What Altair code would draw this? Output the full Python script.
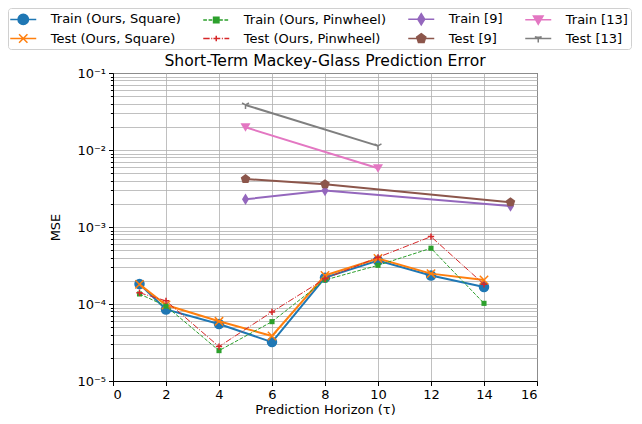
import altair as alt
import pandas as pd

FONT = "DejaVu Sans"

# ---------------- data ----------------
series_names = [
    "Train (Ours, Square)", "Test (Ours, Square)",
    "Train (Ours, Pinwheel)", "Test (Ours, Pinwheel)",
    "Train [9]", "Test [9]", "Train [13]", "Test [13]",
]
horizon_ours = [1, 2, 4, 6, 8, 10, 12, 14]
train_square = [1.82e-4, 8.5e-5, 5.5e-5, 3.2e-5, 2.2e-4, 3.66e-4, 2.34e-4, 1.66e-4]
test_square = [1.80e-4, 9.7e-5, 5.96e-5, 3.84e-5, 2.35e-4, 3.9e-4, 2.48e-4, 2.05e-4]
train_pinwheel = [1.35e-4, 9.4e-5, 2.48e-5, 5.9e-5, 2.05e-4, 3.18e-4, 5.3e-4, 1.02e-4]
test_pinwheel = [1.40e-4, 1.1e-4, 2.8e-5, 7.9e-5, 2.13e-4, 4.04e-4, 7.5e-4, 1.8e-4]
horizon_9 = [5, 8, 15]
train_9 = [2.29e-3, 2.97e-3, 1.87e-3]
test_9 = [4.2e-3, 3.6e-3, 2.1e-3]
horizon_13 = [5, 10]
train_13 = [1.97e-2, 5.8e-3]
test_13 = [3.84e-2, 1.13e-2]

x_ticks = [0, 2, 4, 6, 8, 10, 12, 14, 16]
y_ticks = [m * 10.0 ** e for e in range(-5, -1) for m in range(1, 10)] + [0.1]

series_data = [
    (series_names[0], horizon_ours, train_square),
    (series_names[1], horizon_ours, test_square),
    (series_names[2], horizon_ours, train_pinwheel),
    (series_names[3], horizon_ours, test_pinwheel),
    (series_names[4], horizon_9, train_9),
    (series_names[5], horizon_9, test_9),
    (series_names[6], horizon_13, train_13),
    (series_names[7], horizon_13, test_13),
]
rows = []
for name, xs, ys in series_data:
    for xv, yv in zip(xs, ys):
        rows.append({"series": name, "horizon": xv, "mse": yv})
df = pd.DataFrame(rows)

# ---------------- styles ----------------
colors = ["#1f77b4", "#ff7f0e", "#2ca02c", "#d62728",
          "#9467bd", "#8c564b", "#e377c2", "#7f7f7f"]
dash_px = [None, None, [3.7, 1.6], [6.4, 1.6, 1.0, 1.6], None, None, None, None]
line_w = [2.0, 2.0, 1.0, 1.0, 2.0, 2.0, 2.0, 2.0]


def marker(kind, r):
    f = lambda v: f"{v:.3f}"
    if kind == "circle":
        return (f"M{f(r)},0A{f(r)},{f(r)},0,1,1,{f(-r)},0"
                f"A{f(r)},{f(r)},0,1,1,{f(r)},0Z")
    if kind == "x":
        return f"M{f(-r)},{f(-r)}L{f(r)},{f(r)}M{f(-r)},{f(r)}L{f(r)},{f(-r)}"
    if kind == "square":
        return f"M{f(-r)},{f(-r)}H{f(r)}V{f(r)}H{f(-r)}Z"
    if kind == "plus":
        return f"M{f(-r)},0H{f(r)}M0,{f(-r)}V{f(r)}"
    if kind == "diamond":
        return f"M0,{f(-r)}L{f(0.62*r)},0L0,{f(r)}L{f(-0.62*r)},0Z"
    if kind == "pentagon":
        pts = [(0, -1), (0.951, -0.309), (0.588, 0.809), (-0.588, 0.809), (-0.951, -0.309)]
        return "M" + "L".join(f"{f(px*r)},{f(py*r)}" for px, py in pts) + "Z"
    if kind == "tridown":
        return (f"M{f(0.866*r)},{f(-0.5*r)}L0,0L{f(-0.866*r)},{f(-0.5*r)}"
                f"M0,0V{f(r)}")
    if kind == "tri":  # triangle down
        return f"M{f(-r)},{f(-0.8*r)}H{f(r)}L0,{f(0.9*r)}Z"
    return ""


kinds = ["circle", "x", "square", "plus", "diamond", "pentagon", "tri", "tridown"]
filled = [True, False, True, False, True, True, True, False]
pt_size = [110, 70, 26, 40, 130, 100, 100, 64]
leg_r_px = [5.2, 4.2, 2.7, 2.8, 5.6, 4.8, 4.8, 3.9]

LEG_SIZE = 196          # symbol box 14 px  -> 1 unit = 7 px
UNIT = 7.0
HALF = 13.0 / UNIT      # handle 26 px long


def line_path(pattern_px):
    if not pattern_px:
        return f"M{-HALF:.3f},0H{HALF:.3f}"
    pat = [p / UNIT for p in pattern_px]
    parts, pos, i, on = [], -HALF, 0, True
    while pos < HALF:
        L = pat[i % len(pat)]
        end = min(pos + L, HALF)
        if on:
            parts.append(f"M{pos:.3f},0H{end:.3f}")
        pos += L
        on = not on
        i += 1
    return "".join(parts)


legend_paths = [
    line_path(dash_px[i]) + marker(kinds[i], leg_r_px[i] / UNIT) for i in range(8)
]

# ---------------- chart ----------------
x_scale = alt.Scale(domain=[0, 16], nice=False, zero=False)
y_scale = alt.Scale(type="log", domain=[1e-5, 1e-1], nice=False)

major_test = "abs(log(datum.value)/LN10 - round(log(datum.value)/LN10)) < 0.01"
x_axis = alt.Axis(values=x_ticks, title="Prediction Horizon (τ)", grid=True,
                  tickSize=4.5, labelPadding=3, titlePadding=12,
                  titleBaseline="alphabetic", format="d")
y_axis = alt.Axis(
    values=y_ticks, title="MSE", grid=True, labelOverlap=False,
    labelExpr=("(" + major_test + ") ? '10' + ['', '⁻¹', '⁻²', '⁻³', '⁻⁴', '⁻⁵']"
               "[-round(log(datum.value)/LN10)] : ''"),
    tickSize={"condition": {"test": major_test, "value": 4.5}, "value": 2.6},
    labelPadding=3, titlePadding=14,
)

base = alt.Chart(df).encode(
    x=alt.X("horizon:Q", scale=x_scale, axis=x_axis),
    y=alt.Y("mse:Q", scale=y_scale, axis=y_axis),
)

layers = []
for i, name in enumerate(series_names):
    sub = base.transform_filter(alt.datum.series == name)
    line_kw = dict(color=colors[i], strokeWidth=line_w[i])
    if dash_px[i]:
        line_kw["strokeDash"] = dash_px[i]
    layers.append(sub.mark_line(**line_kw))
    shape = "circle" if kinds[i] == "circle" else marker(kinds[i], 1.0)
    if filled[i]:
        layers.append(sub.mark_point(shape=shape, size=pt_size[i], filled=True,
                                     color=colors[i], opacity=1))
    else:
        layers.append(sub.mark_point(shape=shape, size=pt_size[i], filled=False,
                                     color=colors[i], opacity=1, strokeWidth=1.5))

leg = alt.Legend(
    orient="none", legendX=-105, legendY=-65, columns=4, title=None,
    symbolSize=LEG_SIZE, symbolStrokeWidth=1.5, symbolOffset=4.25,
    labelFont=FONT, labelFontSize=13, labelColor="black", labelOffset=19.5,
    columnPadding=19, rowPadding=2.5,
    padding=3, strokeColor="#d0d0d0", fillColor="white", cornerRadius=3,
    labelLimit=400,
)
legend_layer = base.mark_point(filled=True, opacity=1, size=LEG_SIZE, strokeWidth=1.5).encode(
    fill=alt.Fill("series:N", scale=alt.Scale(domain=series_names, range=colors), legend=leg),
    stroke=alt.Stroke("series:N", scale=alt.Scale(domain=series_names, range=colors), legend=leg),
    shape=alt.Shape("series:N", scale=alt.Scale(domain=series_names, range=legend_paths), legend=leg),
).transform_filter("false")

chart = alt.layer(*layers, legend_layer).properties(
    width=424, height=308,
    autosize=alt.AutoSizeParams(type="none"),
    padding={"left": 105, "top": 65, "right": 97, "bottom": 35},
    title=alt.TitleParams("Short-Term Mackey-Glass Prediction Error", font=FONT,
                          fontSize=15.6, fontWeight="normal", color="black",
                          anchor="middle", frame="group", offset=-62),
).configure_view(stroke="black", strokeWidth=1).configure_axis(
    labelFont=FONT, titleFont=FONT, labelFontSize=13, titleFontSize=13,
    titleFontWeight="normal", labelColor="black", titleColor="black",
    domainColor="black", tickColor="black", gridColor="#b0b0b0", gridWidth=0.8,
)

chart.save("out.html", embed_options={"renderer": "svg", "actions": False})
